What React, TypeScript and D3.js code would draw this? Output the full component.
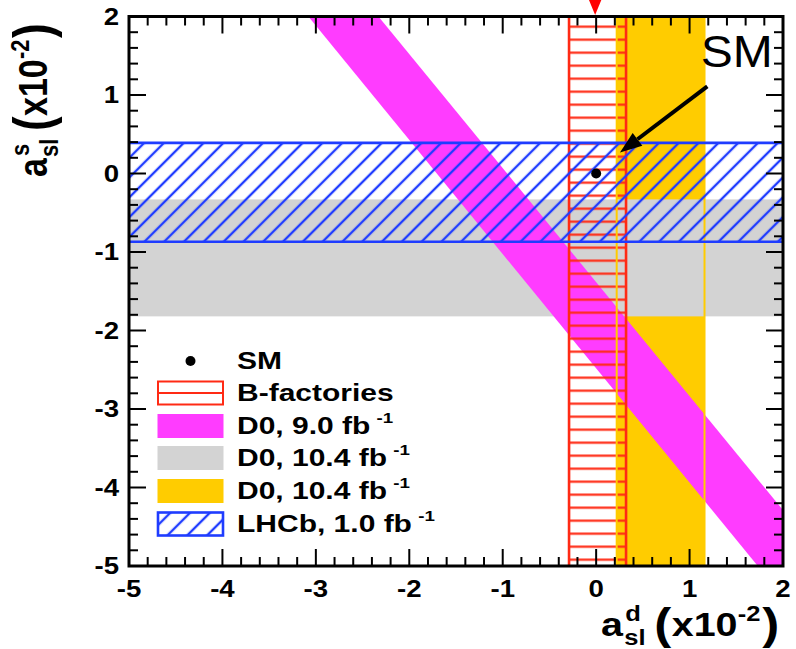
import React, { useEffect, useRef } from "react"
import * as d3 from "d3"

// axis ticks (units of 10^-2)
const xTicks = [-5, -4, -3, -2, -1, 0, 1, 2]
const yTicks = [-5, -4, -3, -2, -1, 0, 1, 2]

// a_sl^d ranges -> vertical bands
const bFactoriesRange = [-0.29, 0.32]
const d0AdRange = [0.22, 1.16]
// a_sl^s ranges -> horizontal bands
const d0AsRange = [-1.82, -0.33]
const lhcbRange = [-0.87, 0.39]
// D0 dimuon band: a_sl^s at the two ends, with a_sl^d low/high edges
const dimuonS = [2, -5]
const dimuonLo = [-3.08, 1.73]
const dimuonHi = [-2.33, 2.49]

const smPoint = [0, 0]
const arrowFrom = [1.19, 1.11]
const arrowTo = [0.255, 0.267]
const smLabelAt = [1.12, 1.36]

const legendNames = ["SM", "B-factories", "D0, 9.0 fb", "D0, 10.4 fb", "D0, 10.4 fb", "LHCb, 1.0 fb"]
const legendSups = ["", "", "-1", "-1", "-1", "-1"]

const RED = "#ff2a14"
const BLUE = "#1f3cff"
const PINK = "#ff3cff"
const GRAY = "#d3d3d3"
const YELLOW = "#ffcc00"
const FONT = "'Liberation Sans', Arial, Helvetica, sans-serif"
const SX = 1.2

const App = () => {
  const ref = useRef<SVGSVGElement>(null)

  useEffect(() => {
    const svg = d3.select(ref.current)
    svg.selectAll("*").remove()

    const x = d3.scaleLinear().domain([-5, 2]).range([129, 783])
    const y = d3.scaleLinear().domain([-5, 2]).range([566, 16.5])
    const [left, right] = x.range()
    const [bottom, top] = y.range()

    const defs = svg.append("defs")
    defs
      .append("clipPath")
      .attr("id", "plot-clip")
      .append("rect")
      .attr("x", left)
      .attr("y", top)
      .attr("width", right - left)
      .attr("height", bottom - top)

    const redHatch = defs
      .append("pattern")
      .attr("id", "red-hatch")
      .attr("patternUnits", "userSpaceOnUse")
      .attr("width", 20)
      .attr("height", 13)
      .attr("y", 7.2)
    redHatch
      .append("line")
      .attr("x1", 0)
      .attr("x2", 20)
      .attr("y1", 6.5)
      .attr("y2", 6.5)
      .attr("stroke", RED)
      .attr("stroke-width", 2.2)

    const blueHatch = defs
      .append("pattern")
      .attr("id", "blue-hatch")
      .attr("patternUnits", "userSpaceOnUse")
      .attr("width", 20)
      .attr("height", 14)
      .attr("patternTransform", "rotate(-45)")
    blueHatch
      .append("line")
      .attr("x1", 0)
      .attr("x2", 20)
      .attr("y1", 7)
      .attr("y2", 7)
      .attr("stroke", BLUE)
      .attr("stroke-width", 2.4)

    const plot = svg.append("g").attr("clip-path", "url(#plot-clip)")

    // D0 a_sl^d (yellow)
    plot
      .append("rect")
      .attr("x", x(d0AdRange[0]))
      .attr("y", top)
      .attr("width", x(d0AdRange[1]) - x(d0AdRange[0]))
      .attr("height", bottom - top)
      .attr("fill", YELLOW)

    // D0 a_sl^s (gray)
    plot
      .append("rect")
      .attr("x", left)
      .attr("y", y(d0AsRange[1]))
      .attr("width", right - left)
      .attr("height", y(d0AsRange[0]) - y(d0AsRange[1]))
      .attr("fill", GRAY)

    // D0 dimuon (magenta)
    const band = [
      [dimuonLo[0], dimuonS[0]],
      [dimuonHi[0], dimuonS[0]],
      [dimuonHi[1], dimuonS[1]],
      [dimuonLo[1], dimuonS[1]],
    ]
    plot
      .append("path")
      .attr("d", d3.line()(band.map((p) => [x(p[0]), y(p[1])] as [number, number])) + "Z")
      .attr("fill", PINK)

    // B-factories (red hatch)
    const bx0 = x(bFactoriesRange[0])
    const bx1 = x(bFactoriesRange[1])
    plot
      .append("rect")
      .attr("x", bx0)
      .attr("y", top)
      .attr("width", bx1 - bx0)
      .attr("height", bottom - top)
      .attr("fill", "url(#red-hatch)")
    plot
      .selectAll(".bf-edge")
      .data(bFactoriesRange)
      .join("line")
      .attr("x1", (d) => x(d))
      .attr("x2", (d) => x(d))
      .attr("y1", top)
      .attr("y2", bottom)
      .attr("stroke", RED)
      .attr("stroke-width", 2.6)

    // yellow band edges drawn over everything below
    plot
      .selectAll(".d0-edge")
      .data(d0AdRange)
      .join("line")
      .attr("x1", (d) => x(d))
      .attr("x2", (d) => x(d))
      .attr("y1", top)
      .attr("y2", bottom)
      .attr("stroke", YELLOW)
      .attr("stroke-width", 2)

    // LHCb (blue hatch)
    plot
      .append("rect")
      .attr("x", left)
      .attr("y", y(lhcbRange[1]))
      .attr("width", right - left)
      .attr("height", y(lhcbRange[0]) - y(lhcbRange[1]))
      .attr("fill", "url(#blue-hatch)")
    plot
      .selectAll(".lhcb-edge")
      .data(lhcbRange)
      .join("line")
      .attr("x1", left)
      .attr("x2", right)
      .attr("y1", (d) => y(d))
      .attr("y2", (d) => y(d))
      .attr("stroke", BLUE)
      .attr("stroke-width", 2.6)

    // SM point
    svg
      .append("circle")
      .attr("cx", x(smPoint[0]))
      .attr("cy", y(smPoint[1]))
      .attr("r", 5)
      .attr("fill", "#000")

    // frame + ticks
    const axes = svg.append("g").attr("stroke", "#000").attr("stroke-width", 2)
    const isMajor = (v: number) => Math.abs(v - Math.round(v)) < 1e-6
    const xMinor = x.ticks(35)
    const yMinor = y.ticks(35)
    xMinor.forEach((v) => {
      const len = isMajor(v) ? 17 : 9
      axes.append("line").attr("x1", x(v)).attr("x2", x(v)).attr("y1", bottom).attr("y2", bottom - len)
      axes.append("line").attr("x1", x(v)).attr("x2", x(v)).attr("y1", top).attr("y2", top + len)
    })
    yMinor.forEach((v) => {
      const len = isMajor(v) ? 17 : 9
      axes.append("line").attr("y1", y(v)).attr("y2", y(v)).attr("x1", left).attr("x2", left + len)
      axes.append("line").attr("y1", y(v)).attr("y2", y(v)).attr("x1", right).attr("x2", right - len)
    })
    svg
      .append("rect")
      .attr("x", left)
      .attr("y", top)
      .attr("width", right - left)
      .attr("height", bottom - top)
      .attr("fill", "none")
      .attr("stroke", "#000")
      .attr("stroke-width", 3)

    const labels = svg
      .append("g")
      .attr("font-family", FONT)
      .attr("font-weight", "bold")
      .attr("font-size", 23)
      .attr("fill", "#000")
    labels
      .selectAll(".xl")
      .data(xTicks)
      .join("text")
      .attr("transform", (d) => `translate(${x(d)},597) scale(${SX},1)`)
      .attr("text-anchor", "middle")
      .text((d) => String(d))
    labels
      .selectAll(".yl")
      .data(yTicks)
      .join("text")
      .attr("transform", (d) => `translate(119,${y(d) + 8}) scale(${SX},1)`)
      .attr("text-anchor", "end")
      .text((d) => String(d))

    // axis titles
    const drawTitle = (g: any, sup: string) => {
      const piece = (t: string, lx: number, ly: number, size: number) =>
        g.append("text").attr("x", lx).attr("y", ly).attr("font-size", size).text(t)
      piece("a", 0, 0, 34)
      piece("sl", 20, 9, 22)
      piece(sup, 21, -15, 22)
      piece("(", 46, 3, 44)
      piece("x10", 61, 0, 34)
      piece("-2", 118, -15, 22)
      piece(")", 139, 3, 44)
    }
    drawTitle(
      svg
        .append("g")
        .attr("font-family", FONT)
        .attr("font-weight", "bold")
        .attr("transform", "translate(601,636) scale(1.16,1)"),
      "d"
    )
    drawTitle(
      svg
        .append("g")
        .attr("font-family", FONT)
        .attr("font-weight", "bold")
        .attr("transform", "translate(47,177) rotate(-90) scale(1,1.2)"),
      "s"
    )

    // arrow to SM
    const ax0 = x(arrowFrom[0])
    const ay0 = y(arrowFrom[1])
    const ax1 = x(arrowTo[0])
    const ay1 = y(arrowTo[1])
    const ang = Math.atan2(ay1 - ay0, ax1 - ax0)
    const headLen = 22
    const headW = 8
    const bxh = ax1 - headLen * Math.cos(ang)
    const byh = ay1 - headLen * Math.sin(ang)
    svg
      .append("line")
      .attr("x1", ax0)
      .attr("y1", ay0)
      .attr("x2", bxh)
      .attr("y2", byh)
      .attr("stroke", "#000")
      .attr("stroke-width", 4)
    svg
      .append("polygon")
      .attr(
        "points",
        [
          [ax1, ay1],
          [bxh + headW * Math.sin(ang), byh - headW * Math.cos(ang)],
          [bxh - headW * Math.sin(ang), byh + headW * Math.cos(ang)],
        ]
          .map((p) => p.join(","))
          .join(" ")
      )
      .attr("fill", "#000")
    svg
      .append("text")
      .attr("x", x(smLabelAt[0]))
      .attr("y", y(smLabelAt[1]))
      .attr("font-family", FONT)
      .attr("font-size", 44)
      .attr("textLength", 72)
      .attr("lengthAdjust", "spacingAndGlyphs")
      .text("SM")

    // red marker at the top (x = 0)
    svg
      .append("polygon")
      .attr("points", `${x(0) - 8},-2 ${x(0) + 6},-2 ${x(0) - 1},15`)
      .attr("fill", "#ff0000")

    // legend
    const legend = svg.append("g")
    const rowY = [361, 393, 426, 458, 491, 524]
    const bx = 158
    const bw = 65
    const bh = 23
    legendNames.forEach((name, i) => {
      const cy = rowY[i]
      if (i === 0) {
        legend.append("circle").attr("cx", bx + bw / 2).attr("cy", cy).attr("r", 5).attr("fill", "#000")
      } else if (i === 1) {
        legend
          .append("rect")
          .attr("x", bx)
          .attr("y", cy - bh / 2)
          .attr("width", bw)
          .attr("height", bh)
          .attr("fill", "#fff")
          .attr("stroke", RED)
          .attr("stroke-width", 2)
        legend
          .append("line")
          .attr("x1", bx)
          .attr("x2", bx + bw)
          .attr("y1", cy)
          .attr("y2", cy)
          .attr("stroke", RED)
          .attr("stroke-width", 2)
      } else if (i === 5) {
        legend
          .append("rect")
          .attr("x", bx)
          .attr("y", cy - bh / 2)
          .attr("width", bw)
          .attr("height", bh)
          .attr("fill", "url(#blue-hatch)")
          .attr("stroke", BLUE)
          .attr("stroke-width", 2.6)
      } else {
        const c = i === 2 ? PINK : i === 3 ? GRAY : YELLOW
        legend
          .append("rect")
          .attr("x", bx)
          .attr("y", cy - bh / 2)
          .attr("width", bw)
          .attr("height", bh)
          .attr("fill", c)
          .attr("stroke", c)
          .attr("stroke-width", 1)
      }
      const t = legend
        .append("text")
        .attr("transform", `translate(237,${cy + 8}) scale(1.25,1)`)
        .attr("font-family", FONT)
        .attr("font-weight", "bold")
        .attr("font-size", 24)
      t.append("tspan").text(name)
      if (legendSups[i]) {
        t.append("tspan").attr("dx", 5).attr("dy", -11).attr("font-size", 15).text(legendSups[i])
      }
    })
  }, [])

  return (
    <svg
      ref={ref}
      width={796}
      height={649}
      style={{ position: "absolute", left: 0, top: 0, background: "#fff" }}
    />
  )
}

export default App
